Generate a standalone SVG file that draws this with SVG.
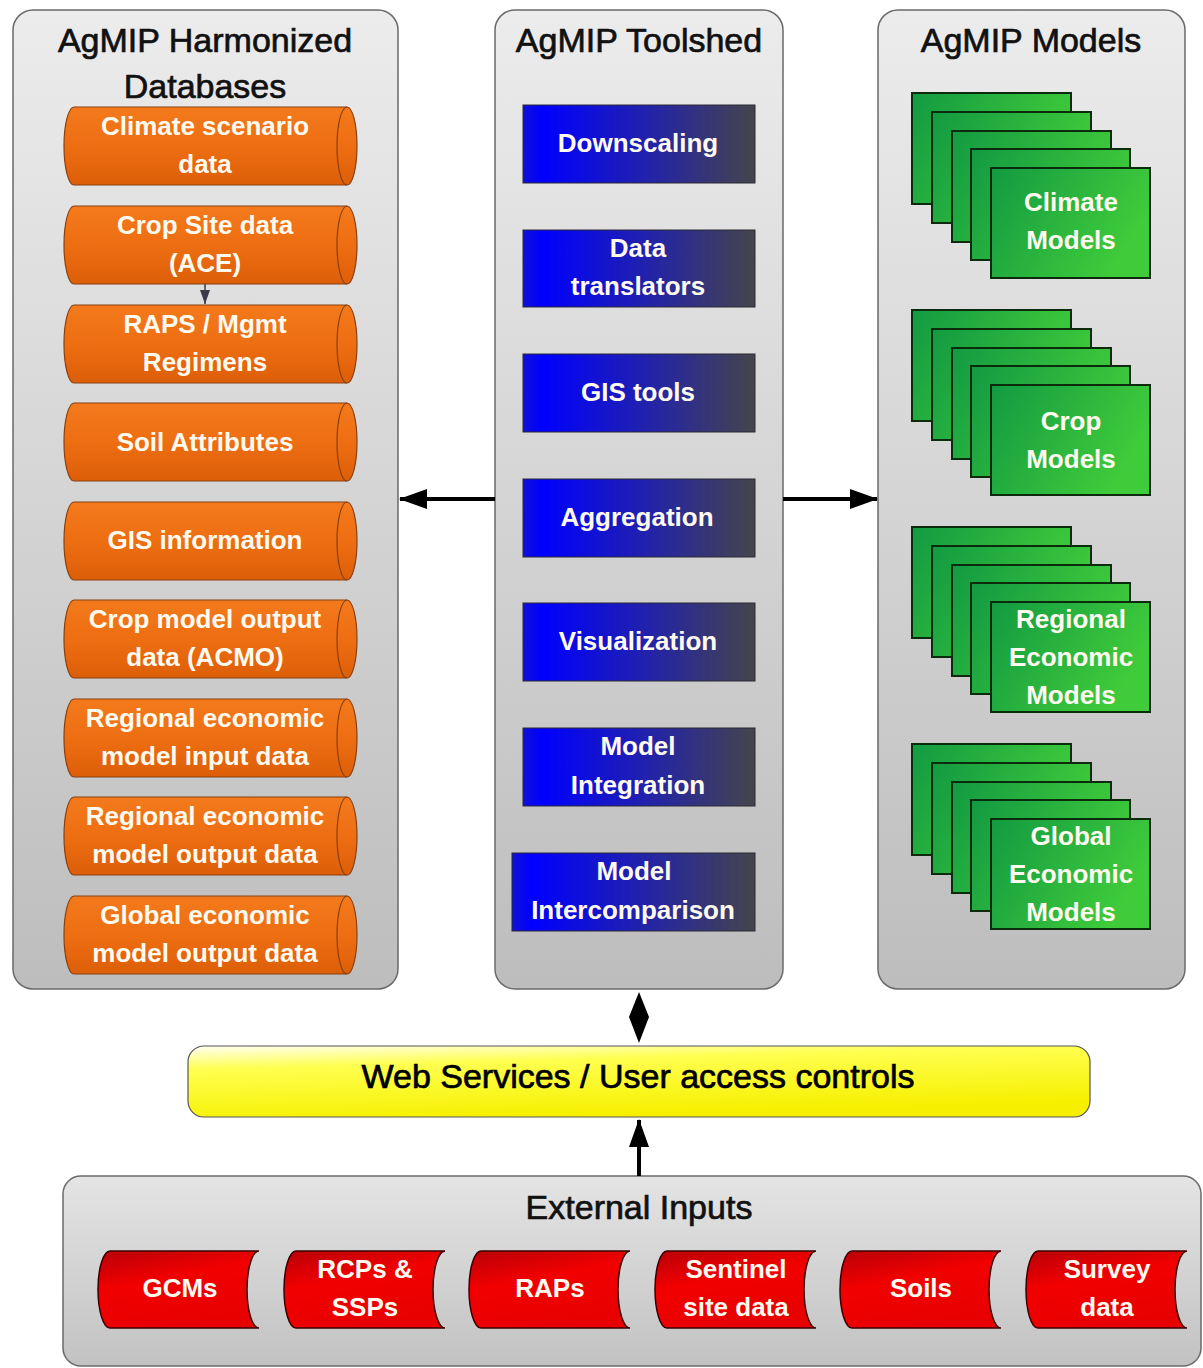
<svg xmlns="http://www.w3.org/2000/svg" width="1203" height="1368" viewBox="0 0 1203 1368">
<defs>
<linearGradient id="gPanel" x1="0" y1="0" x2="0" y2="1">
<stop offset="0" stop-color="#ececec"/><stop offset="1" stop-color="#bdbdbd"/>
</linearGradient>
<linearGradient id="gBottom" x1="0" y1="0" x2="0" y2="1">
<stop offset="0" stop-color="#e4e4e4"/><stop offset="1" stop-color="#c2c2c2"/>
</linearGradient>
<linearGradient id="gOrange" x1="0" y1="0" x2="0" y2="1">
<stop offset="0" stop-color="#f37a1c"/><stop offset="0.5" stop-color="#ee6e12"/><stop offset="1" stop-color="#dc5e08"/>
</linearGradient>
<linearGradient id="gBlue" x1="0" y1="0" x2="1" y2="0">
<stop offset="0" stop-color="#1010d8"/><stop offset="0.08" stop-color="#0000ff"/><stop offset="0.55" stop-color="#2323a8"/><stop offset="1" stop-color="#45454b"/>
</linearGradient>
<linearGradient id="gGreen" x1="0" y1="0" x2="1" y2="0.4">
<stop offset="0" stop-color="#129a42"/><stop offset="1" stop-color="#40cc3a"/>
</linearGradient>
<linearGradient id="gRed" x1="0" y1="0" x2="0.4" y2="1">
<stop offset="0" stop-color="#b80008"/><stop offset="0.45" stop-color="#f20000"/><stop offset="1" stop-color="#e80000"/>
</linearGradient>
<linearGradient id="gYellow" x1="0" y1="0" x2="0.35" y2="1">
<stop offset="0" stop-color="#fffff2"/><stop offset="0.3" stop-color="#ffff50"/><stop offset="1" stop-color="#f6f000"/>
</linearGradient>
<marker id="ah" viewBox="0 0 28 20" refX="27" refY="10" markerWidth="28" markerHeight="20" markerUnits="userSpaceOnUse" orient="auto">
<path d="M0,0 L28,10 L0,20 Z" fill="#000"/>
</marker>
<marker id="ahSmall" viewBox="0 0 14 10" refX="14" refY="5" markerWidth="14" markerHeight="10" markerUnits="userSpaceOnUse" orient="auto">
<path d="M0,0 L14,5 L0,10 Z" fill="#3a3a48"/>
</marker>
</defs>
<style>
.panel{fill:url(#gPanel);stroke:#6a6a6a;stroke-width:1.5}
.title{font-family:"Liberation Sans",Arial,sans-serif;font-size:34px;fill:#111;stroke:#111;stroke-width:0.7;text-anchor:middle}
.lbl{font-family:"Liberation Sans",Arial,sans-serif;font-weight:bold;font-size:26px;fill:#fffaf0;text-anchor:middle}
.cyl{fill:url(#gOrange);stroke:#8a4010;stroke-width:1.2}
.cap{fill:none;stroke:#8a4010;stroke-width:1.2}
.tool{fill:url(#gBlue);stroke:#2a2a35;stroke-width:1}
.gm{fill:url(#gGreen);stroke:#0c2a0c;stroke-width:2}
.red{fill:url(#gRed);stroke:#3a0000;stroke-width:1.5}
.conn{stroke:#000;stroke-width:4;fill:none}
</style>
<rect width="1203" height="1368" fill="#ffffff"/>

<!-- Panels -->
<g id="panel-databases">
<rect class="panel" x="13" y="10" width="385" height="979" rx="20"/>
<text class="title" x="205" y="52">AgMIP Harmonized</text>
<text class="title" x="205" y="98">Databases</text>
</g>
<g id="panel-toolshed">
<rect class="panel" x="495" y="10" width="288" height="979" rx="20"/>
<text class="title" x="639" y="52">AgMIP Toolshed</text>
</g>
<g id="panel-models">
<rect class="panel" x="878" y="10" width="307" height="979" rx="20"/>
<text class="title" x="1031" y="52">AgMIP Models</text>
</g>
<g id="panel-external">
<rect x="63" y="1176" width="1138" height="190" rx="18" fill="url(#gBottom)" stroke="#6a6a6a" stroke-width="1.5"/>
<text class="title" x="639" y="1219">External Inputs</text>
</g>

<!-- Database cylinders -->
<g id="db-climate">
<path class="cyl" d="M74,107 L347,107 A10,39 0 0 1 347,185 L74,185 A10,39 0 0 1 74,107 Z"/>
<path class="cap" d="M347,107 A10,39 0 0 0 347,185"/>
<text class="lbl" x="205" y="135">Climate scenario</text>
<text class="lbl" x="205" y="173">data</text>
</g>
<g id="db-cropsite">
<path class="cyl" d="M74,206 L347,206 A10,39 0 0 1 347,284 L74,284 A10,39 0 0 1 74,206 Z"/>
<path class="cap" d="M347,206 A10,39 0 0 0 347,284"/>
<text class="lbl" x="205" y="234">Crop Site data</text>
<text class="lbl" x="205" y="272">(ACE)</text>
</g>
<g id="db-raps">
<path class="cyl" d="M74,305 L347,305 A10,39 0 0 1 347,383 L74,383 A10,39 0 0 1 74,305 Z"/>
<path class="cap" d="M347,305 A10,39 0 0 0 347,383"/>
<text class="lbl" x="205" y="333">RAPS / Mgmt</text>
<text class="lbl" x="205" y="371">Regimens</text>
</g>
<g id="db-soil">
<path class="cyl" d="M74,403 L347,403 A10,39 0 0 1 347,481 L74,481 A10,39 0 0 1 74,403 Z"/>
<path class="cap" d="M347,403 A10,39 0 0 0 347,481"/>
<text class="lbl" x="205" y="451">Soil Attributes</text>
</g>
<g id="db-gis">
<path class="cyl" d="M74,502 L347,502 A10,39 0 0 1 347,580 L74,580 A10,39 0 0 1 74,502 Z"/>
<path class="cap" d="M347,502 A10,39 0 0 0 347,580"/>
<text class="lbl" x="205" y="549">GIS information</text>
</g>
<g id="db-acmo">
<path class="cyl" d="M74,600 L347,600 A10,39 0 0 1 347,678 L74,678 A10,39 0 0 1 74,600 Z"/>
<path class="cap" d="M347,600 A10,39 0 0 0 347,678"/>
<text class="lbl" x="205" y="628">Crop model output</text>
<text class="lbl" x="205" y="666">data (ACMO)</text>
</g>
<g id="db-reg-in">
<path class="cyl" d="M74,699 L347,699 A10,39 0 0 1 347,777 L74,777 A10,39 0 0 1 74,699 Z"/>
<path class="cap" d="M347,699 A10,39 0 0 0 347,777"/>
<text class="lbl" x="205" y="727">Regional economic</text>
<text class="lbl" x="205" y="765">model input data</text>
</g>
<g id="db-reg-out">
<path class="cyl" d="M74,797 L347,797 A10,39 0 0 1 347,875 L74,875 A10,39 0 0 1 74,797 Z"/>
<path class="cap" d="M347,797 A10,39 0 0 0 347,875"/>
<text class="lbl" x="205" y="825">Regional economic</text>
<text class="lbl" x="205" y="863">model output data</text>
</g>
<g id="db-glob-out">
<path class="cyl" d="M74,896 L347,896 A10,39 0 0 1 347,974 L74,974 A10,39 0 0 1 74,896 Z"/>
<path class="cap" d="M347,896 A10,39 0 0 0 347,974"/>
<text class="lbl" x="205" y="924">Global economic</text>
<text class="lbl" x="205" y="962">model output data</text>
</g>

<!-- Tools -->
<g id="tool-downscaling">
<rect class="tool" x="523" y="105" width="232" height="78"/>
<text class="lbl" x="638" y="152">Downscaling</text>
</g>
<g id="tool-translators">
<rect class="tool" x="523" y="230" width="232" height="77"/>
<text class="lbl" x="638" y="257">Data</text>
<text class="lbl" x="638" y="295">translators</text>
</g>
<g id="tool-gis">
<rect class="tool" x="523" y="354" width="232" height="78"/>
<text class="lbl" x="638" y="401">GIS tools</text>
</g>
<g id="tool-aggregation">
<rect class="tool" x="523" y="479" width="232" height="78"/>
<text class="lbl" x="637" y="526">Aggregation</text>
</g>
<g id="tool-visualization">
<rect class="tool" x="523" y="603" width="232" height="78"/>
<text class="lbl" x="638" y="650">Visualization</text>
</g>
<g id="tool-integration">
<rect class="tool" x="523" y="728" width="232" height="78"/>
<text class="lbl" x="638" y="755">Model</text>
<text class="lbl" x="638" y="794">Integration</text>
</g>
<g id="tool-intercomparison">
<rect class="tool" x="512" y="853" width="243" height="78"/>
<text class="lbl" x="634" y="880">Model</text>
<text class="lbl" x="633" y="919">Intercomparison</text>
</g>

<!-- Models -->
<g id="models-climate">
<rect class="gm" x="912" y="93" width="159" height="111"/>
<rect class="gm" x="932" y="112" width="159" height="111"/>
<rect class="gm" x="952" y="131" width="159" height="111"/>
<rect class="gm" x="971" y="149" width="159" height="111"/>
<rect class="gm" x="991" y="168" width="159" height="110"/>
<text class="lbl" x="1071" y="211">Climate</text>
<text class="lbl" x="1071" y="249">Models</text>
</g>
<g id="models-crop">
<rect class="gm" x="912" y="310" width="159" height="111"/>
<rect class="gm" x="932" y="329" width="159" height="111"/>
<rect class="gm" x="952" y="348" width="159" height="111"/>
<rect class="gm" x="971" y="366" width="159" height="111"/>
<rect class="gm" x="991" y="385" width="159" height="110"/>
<text class="lbl" x="1071" y="430">Crop</text>
<text class="lbl" x="1071" y="468">Models</text>
</g>
<g id="models-regional">
<rect class="gm" x="912" y="527" width="159" height="111"/>
<rect class="gm" x="932" y="546" width="159" height="111"/>
<rect class="gm" x="952" y="565" width="159" height="111"/>
<rect class="gm" x="971" y="583" width="159" height="111"/>
<rect class="gm" x="991" y="602" width="159" height="110"/>
<text class="lbl" x="1071" y="628">Regional</text>
<text class="lbl" x="1071" y="666">Economic</text>
<text class="lbl" x="1071" y="704">Models</text>
</g>
<g id="models-global">
<rect class="gm" x="912" y="744" width="159" height="111"/>
<rect class="gm" x="932" y="763" width="159" height="111"/>
<rect class="gm" x="952" y="782" width="159" height="111"/>
<rect class="gm" x="971" y="800" width="159" height="111"/>
<rect class="gm" x="991" y="819" width="159" height="110"/>
<text class="lbl" x="1071" y="845">Global</text>
<text class="lbl" x="1071" y="883">Economic</text>
<text class="lbl" x="1071" y="921">Models</text>
</g>

<!-- Web services -->
<g id="web-services">
<rect x="188" y="1046" width="902" height="71" rx="16" fill="url(#gYellow)" stroke="#555" stroke-width="1.2"/>
<text class="title" x="638" y="1088" style="fill:#000;stroke:#000">Web Services / User access controls</text>
</g>

<!-- External inputs -->
<g id="in-gcms">
<path class="red" d="M110,1251 L259,1251 A12,38.5 0 0 0 259,1328 L110,1328 A12,38.5 0 0 1 110,1251 Z"/>
<text class="lbl" x="180" y="1297">GCMs</text>
</g>
<g id="in-rcps">
<path class="red" d="M296,1251 L445,1251 A12,38.5 0 0 0 445,1328 L296,1328 A12,38.5 0 0 1 296,1251 Z"/>
<text class="lbl" x="365" y="1278">RCPs &amp;</text>
<text class="lbl" x="365" y="1316">SSPs</text>
</g>
<g id="in-raps">
<path class="red" d="M481,1251 L630,1251 A12,38.5 0 0 0 630,1328 L481,1328 A12,38.5 0 0 1 481,1251 Z"/>
<text class="lbl" x="550" y="1297">RAPs</text>
</g>
<g id="in-sentinel">
<path class="red" d="M667,1251 L816,1251 A12,38.5 0 0 0 816,1328 L667,1328 A12,38.5 0 0 1 667,1251 Z"/>
<text class="lbl" x="736" y="1278">Sentinel</text>
<text class="lbl" x="736" y="1316">site data</text>
</g>
<g id="in-soils">
<path class="red" d="M852,1251 L1001,1251 A12,38.5 0 0 0 1001,1328 L852,1328 A12,38.5 0 0 1 852,1251 Z"/>
<text class="lbl" x="921" y="1297">Soils</text>
</g>
<g id="in-survey">
<path class="red" d="M1038,1251 L1187,1251 A12,38.5 0 0 0 1187,1328 L1038,1328 A12,38.5 0 0 1 1038,1251 Z"/>
<text class="lbl" x="1107" y="1278">Survey</text>
<text class="lbl" x="1107" y="1316">data</text>
</g>

<!-- Connectors -->
<g id="connectors">
<line x1="205" y1="284" x2="205" y2="304" stroke="#3a3a48" stroke-width="1.5" marker-end="url(#ahSmall)"/>
<line class="conn" x1="495" y1="499" x2="400" y2="499" marker-end="url(#ah)"/>
<line class="conn" x1="783" y1="499" x2="877" y2="499" marker-end="url(#ah)"/>
<line class="conn" x1="639" y1="1000" x2="639" y2="1035"/>
<path d="M639,992 L649,1017 L639,1043 L629,1017 Z" fill="#000"/>
<line class="conn" x1="639" y1="1176" x2="639" y2="1120" marker-end="url(#ah)"/>
</g>
</svg>
